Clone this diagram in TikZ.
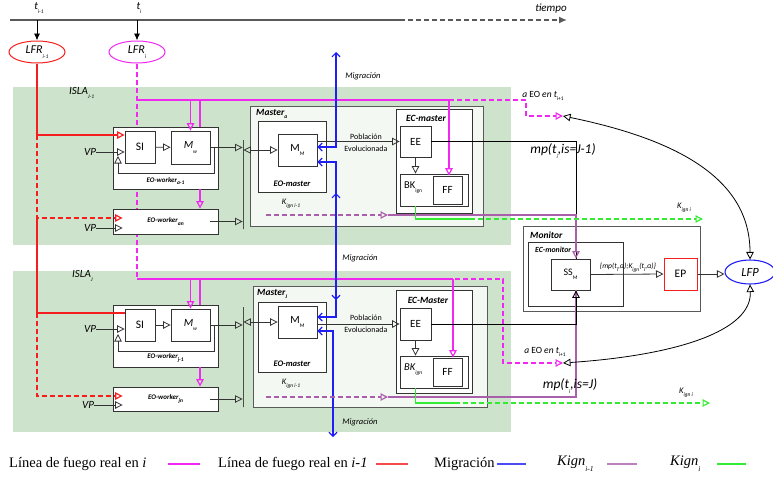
\documentclass[tikz,border=0pt]{standalone}
\usepackage{fontspec}
\setmainfont{Carlito}
\newfontfamily\leyenda{Liberation Serif}
\usepackage{xcolor}
\usepackage{tikz}
\usetikzlibrary{arrows.meta,positioning,shapes.geometric}

\definecolor{islaverde}{RGB}{206,227,204}
\definecolor{masterfondo}{RGB}{244,248,243}
\definecolor{rojo}{RGB}{245,30,30}
\definecolor{magenta2}{RGB}{240,40,240}
\definecolor{azul}{RGB}{30,30,245}
\definecolor{morado}{RGB}{170,95,170}
\definecolor{verde}{RGB}{50,235,50}

\newcommand{\subi}[1]{\raisebox{-0.8ex}{\fontsize{5.5}{6}\selectfont #1}}
\newcommand{\subl}[1]{\raisebox{-0.9ex}{\fontsize{7.5}{8}\selectfont #1}}

\begin{document}
\begin{tikzpicture}[
  x=1pt, y=-1pt,
  isla/.style={fill=islaverde, draw=none, inner sep=0pt},
  caja/.style={draw=black!80, fill=white, line width=0.8pt, inner sep=0pt, font=\fontsize{11}{12}\selectfont},
  cajam/.style={caja, fill=masterfondo, draw=black!65},
  barra/.style={draw=black, line width=0.9pt, minimum width=0pt, inner sep=0pt},
  lfr/.style={ellipse, line width=1pt, minimum width=56pt, minimum height=22pt, inner sep=0pt, font=\fontsize{12}{12}\selectfont\itshape},
  etq/.style={inner sep=0pt, font=\fontsize{11}{12}\selectfont\itshape},
  tit/.style={inner sep=0pt, font=\fontsize{9.5}{10}\selectfont\bfseries\itshape},
  wrk/.style={inner sep=0pt, font=\fontsize{7}{8}\selectfont\bfseries\itshape},
  peq/.style={inner sep=0pt, font=\fontsize{8.5}{9}\selectfont\itshape},
  pob/.style={inner sep=0pt, align=center, font=\fontsize{8}{12}\selectfont},
  punta/.style={-{Triangle[open,length=7.5pt,width=7.5pt]}},
  flecha/.style={draw=black!80, line width=0.8pt, punta},
  dobleflecha/.style={draw=black!80, line width=0.8pt, {Triangle[open,length=7.5pt,width=7.5pt]}-{Triangle[open,length=7.5pt,width=7.5pt]}},
  tiempoln/.style={draw=black!65, line width=1.5pt},
  rojoln/.style={draw=rojo, line width=1.2pt},
  magln/.style={draw=magenta2, line width=1.2pt},
  migln/.style={draw=azul, line width=1.2pt, {Straight Barb[length=4pt,width=8pt]}-{Straight Barb[length=4pt,width=8pt]}},
  morln/.style={draw=morado, line width=1.2pt},
  verln/.style={draw=verde, line width=1.2pt},
  rayas/.style={dash pattern=on 5pt off 3pt},
  ley/.style={inner sep=0pt, font=\leyenda\fontsize{14.5}{15}\selectfont},
  muestra/.style={line width=1.8pt}
]
\useasboundingbox (0,0) rectangle (773,480);

% islas
\node[isla, minimum width=498pt, minimum height=158pt] (islaA) at (262,166) {};
\node[isla, minimum width=498pt, minimum height=161pt] (islaB) at (262,351.5) {};
\node[etq, anchor=west] (islaAl) at (69,93) {ISLA\subi{J-1}};
\node[etq, anchor=west] (islaBl) at (72,276) {ISLA\subi{J}};

% eje de tiempo
\coordinate (t0) at (10,20);
\coordinate (tm) at (400,20);
\coordinate (tf) at (567,20);
\draw[tiempoln] (t0) -- (tm);
\draw[tiempoln, rayas, -{Latex[length=8pt,width=7pt]}] (tm) -- (tf);
\node[etq] (tiempol) at (551,9) {tiempo};
\node[etq] (ta) at (39,8) {t\subi{i-1}};
\node[etq] (tb) at (139,8) {t\subi{i}};
\coordinate (pa) at (37,20);
\coordinate (pb) at (137,20);
\node[lfr, draw=rojo] (lfra) at (37,52) {LFR\subi{i-1}};
\node[lfr, draw=magenta2] (lfrb) at (137,52) {LFR\subi{i}};
\draw[line width=0.9pt, -{Latex[length=7pt,width=6pt]}] (pa) -- (lfra);
\draw[line width=0.9pt, -{Latex[length=7pt,width=6pt]}] (pb) -- (lfrb);

% linea LFR_i (detras de las cajas)
\coordinate (mA0) at (137,100);
\coordinate (mB0) at (137,279);
\draw[magln, rayas] (lfrb.south) -- (mB0);

% isla J-1
\node[caja, minimum width=105pt, minimum height=62pt] (wkA) at (165.5,158) {};
\node[caja, minimum width=30pt, minimum height=32pt, font=\fontsize{11.5}{12}\selectfont] (siA) at (140,147) {SI};
\node[caja, minimum width=39pt, minimum height=33pt] (mwA) at (190.5,147.5) {\textit{M}\subi{\textit{w}}};
\node[wrk] (wkAl) at (165.5,181) {EO-worker\subi{a-1}};
\node[caja, minimum width=105pt, minimum height=25pt, font=\fontsize{7}{8}\selectfont\bfseries\itshape] (woAn) at (165.5,221.5) {EO-worker\subi{an}};
\node[barra, minimum height=89pt] (barA) at (243,184.5) {};
\node[etq] (vpA) at (90,152) {VP};
\node[etq] (vpAn) at (90,228) {VP};

\node[cajam, minimum width=233pt, minimum height=120pt] (msA) at (366.5,166) {};
\node[tit, anchor=west] (msAl) at (256,114) {Master\subi{a}};
\node[caja, minimum width=68pt, minimum height=71pt] (eomA) at (292,156.5) {};
\node[wrk, font=\fontsize{8.5}{9}\selectfont\bfseries\itshape] (eomAl) at (292,184) {EO-master};
\node[caja, minimum width=39pt, minimum height=32pt] (mmA) at (297.5,150) {M\subi{M}};
\node[caja, minimum width=76pt, minimum height=104pt] (ecA) at (434,161) {};
\node[tit] (ecAl) at (426,118) {EC-master};
\node[caja, minimum width=31pt, minimum height=31pt] (eeA) at (415.5,141.5) {EE};
\node[caja, minimum width=68pt, minimum height=32pt] (bkA) at (434,190) {};
\node[inner sep=0pt, anchor=west, font=\fontsize{10.5}{11}\selectfont] (bkAl) at (404,188) {BK\subi{ign}};
\node[caja, minimum width=29pt, minimum height=28pt] (ffA) at (447.5,190) {FF};

% isla J
\node[caja, minimum width=105pt, minimum height=62pt] (wkB) at (165.5,336) {};
\node[caja, minimum width=30pt, minimum height=32pt, font=\fontsize{11.5}{12}\selectfont] (siB) at (140,325) {SI};
\node[caja, minimum width=39pt, minimum height=32pt] (mwB) at (190.5,325) {\textit{M}\subi{\textit{w}}};
\node[wrk] (wkBl) at (165.5,358) {EO-worker\subi{j-1}};
\node[caja, minimum width=105pt, minimum height=24pt, font=\fontsize{7}{8}\selectfont\bfseries\itshape] (woBn) at (165.5,399) {EO-worker\subi{jn}};
\node[barra, minimum height=100pt] (barB) at (243,357) {};
\node[etq] (vpB) at (90,329) {VP};
\node[etq] (vpBn) at (88,405) {VP};

\node[cajam, minimum width=234pt, minimum height=121pt] (msB) at (370,346.5) {};
\node[tit, anchor=west] (msBl) at (257,294) {Master\subi{J}};
\node[caja, minimum width=68pt, minimum height=70pt] (eomB) at (292,337) {};
\node[wrk, font=\fontsize{8.5}{9}\selectfont\bfseries\itshape] (eomBl) at (292,364) {EO-master};
\node[caja, minimum width=39pt, minimum height=32pt] (mmB) at (297.5,322) {M\subi{M}};
\node[caja, minimum width=76pt, minimum height=103pt] (ecB) at (434,341.5) {};
\node[tit] (ecBl) at (428,300) {EC-Master};
\node[caja, minimum width=31pt, minimum height=32pt] (eeB) at (415.5,324) {EE};
\node[caja, minimum width=68pt, minimum height=32pt] (bkB) at (434,372) {};
\node[inner sep=0pt, anchor=west, font=\fontsize{10.5}{11}\selectfont\itshape] (bkBl) at (404,370) {BK\subi{ign}};
\node[caja, minimum width=29pt, minimum height=28pt] (ffB) at (447.5,372) {FF};

% monitor
\node[caja, draw=black!65, minimum width=177pt, minimum height=85pt] (mon) at (611.5,268.5) {};
\node[tit, anchor=west] (monl) at (530,235) {Monitor};
\node[caja, minimum width=95pt, minimum height=64pt] (ecmon) at (575.5,274) {};
\node[wrk, font=\fontsize{7.8}{8}\selectfont\bfseries\itshape, anchor=west] (ecmonl) at (535,250) {EC-monitor};
\node[caja, minimum width=39pt, minimum height=31pt, font=\fontsize{10}{11}\selectfont] (ssm) at (570.5,274.5) {SS\subi{M}};
\node[caja, draw=rojo, line width=1pt, minimum width=33pt, minimum height=32pt, font=\fontsize{11.5}{12}\selectfont] (ep) at (680.5,274) {EP};
\node[ellipse, draw=azul, line width=1.1pt, minimum width=50pt, minimum height=24pt, inner sep=0pt, font=\fontsize{12.5}{13}\selectfont\itshape] (lfp) at (750,272) {LFP};

% linea de fuego real en i-1
\coordinate (rA) at (37,135);
\coordinate (rAn) at (37,218);
\coordinate (rB) at (37,313);
\coordinate (rBn) at (37,396);
\draw[rojoln, punta] (lfra.south) |- (siA.west |- rA);
\draw[rojoln, rayas, punta] (rA) |- ([xshift=10pt]woAn.west |- rAn);
\draw[rojoln] (rAn) |- (siB.west |- rB);
\draw[rojoln, rayas, punta] (rB) |- ([xshift=10pt]woBn.west |- rBn);

% linea de fuego real en i
\coordinate (mA1) at (449,100);
\coordinate (mA3) at (200,100);
\coordinate (eoA) at (563,116);
\draw[magln] (mA0) -- (mA1);
\draw[magln, punta] (mwA.north |- mA0) -- (mwA.north);
\draw[magln] (mA3) -- (wkA.north -| mA3);
\draw[magln, punta] (wkA.south -| mA3) -- (woAn.north -| mA3);
\draw[magln, punta] (mA1) -- (mA1 |- ffA.north);
\draw[magln, rayas, punta] (mA1) -| (526,116) -- (eoA);
\node[peq, font=\fontsize{9.5}{10}\selectfont] (eoAl) at (543,96) {\textit{a} EO \textit{en t}\subi{i+1}};

\coordinate (mB1) at (453,279);
\coordinate (mB2) at (383,279);
\coordinate (mB3) at (200,279);
\coordinate (eoB) at (563,363);
\draw[magln] (mB0) -- (mB1);
\draw[magln, punta] (mwB.north |- mB0) -- (mwB.north);
\draw[magln] (mB3) -- (wkB.north -| mB3);
\draw[magln, punta] (wkB.south -| mB3) -- (woBn.north -| mB3);
\draw[magln, punta] (mB1) -- (mB1 |- ffB.north);
\draw[magln, rayas, punta] (mB2) -| (503,363) -- (eoB);
\node[peq, font=\fontsize{9.5}{10}\selectfont] (eoBl) at (545,352) {\textit{a} EO \textit{en t}\subi{i+1}};

% workers
\draw[flecha] (vpA.east) -- (siA.west |- vpA.east);
\draw[flecha] (siA) -- (mwA);
\draw[flecha] (mwA.east) -- (mwA.east -| barA.west);
\coordinate (lzA) at (214,147.5);
\draw[flecha] (lzA) |- (118,173) -- (118,156);
\draw[flecha] (vpAn.east) -- ([xshift=10pt]woAn.west |- vpAn.east);
\draw[flecha] ([xshift=-8pt]woAn.east) -- (woAn.east -| barA.west);
\draw[dobleflecha] (mmA.west -| barA.east) -- (mmA.west);

\draw[flecha] (vpB.east) -- (siB.west |- vpB.east);
\draw[flecha] (siB) -- (mwB);
\draw[flecha] (mwB.east) -- (mwB.east -| barB.west);
\coordinate (lzB) at (214,325);
\draw[flecha] (lzB) |- (118,351) -- (118,334);
\draw[flecha] (vpBn.east) -- ([xshift=10pt]woBn.west |- vpBn.east);
\draw[flecha] ([xshift=-8pt]woBn.east) -- (woBn.east -| barB.west);
\draw[dobleflecha] (mmB.west -| barB.east) -- (mmB.west);

% masters
\draw[flecha] (mmA.east |- eeA.west) -- (eeA.west);
\node[pob] (pobA) at (366,143) {Población\\Evolucionada};
\draw[flecha] (eeA.south) -- (eeA.south |- bkA.north);
\draw[flecha] (mmB.east |- eeB.west) -- (eeB.west);
\node[pob] (pobB) at (366,324) {Población\\Evolucionada};
\draw[flecha] (eeB.south) -- (eeB.south |- bkB.north);

% migracion
\coordinate (migT) at (336,52);
\coordinate (migM) at (336,240);
\coordinate (migB) at (333,437);
\draw[migln] (migT) |- (mmA.east |- 0,147);
\draw[migln] (mmA.east |- 0,162) -| (migM) |- (mmB.east |- 0,317);
\draw[migln] (336,193) -- (336,300);
\draw[migln] (mmB.east |- 0,331) -| (migB);
\node[peq, font=\fontsize{8.5}{9}\selectfont\itshape] (migl1) at (363,76) {Migración};
\node[peq, font=\fontsize{8.5}{9}\selectfont\itshape] (migl2) at (360,258) {Migración};
\node[peq, font=\fontsize{8.5}{9}\selectfont\itshape] (migl3) at (360,422) {Migración};

% hacia el monitor
\coordinate (kA0) at (266,215);
\coordinate (kA1) at (388,215);
\coordinate (kB0) at (266,397);
\coordinate (kB1) at (388,397);
\draw[draw=black, line width=0.9pt] (eeA.east) -| (ssm.north -| 576,0);
\draw[morln, rayas, punta] (kA0) -- (kA1);
\draw[morln, punta] (kA1) -| (ssm.north -| 576,0);
\node[peq] (kAl) at (291,204) {K\subi{ign i-1}};
\draw[morln, rayas, punta] (kB0) -- (kB1);
\draw[morln] (kB1) -| (ssm.south -| 576,0);
\draw[draw=black, line width=0.9pt, punta] (eeB.east) -| (ssm.south -| 576,0);
\node[peq] (kBl) at (291,384) {K\subi{ign i-1}};

% K_ign i
\coordinate (gA1) at (470,219);
\coordinate (gA2) at (703,219);
\coordinate (gB1) at (455,403);
\coordinate (gB2) at (710,403);
\draw[verln] (eeA.south |- bkA.south) |- (gA1);
\draw[verln, rayas, punta] (gA1) -- (gA2);
\node[peq] (gAl) at (684,208) {K\subi{ign i}};
\draw[verln] (eeB.south |- bkB.south) |- (gB1);
\draw[verln, rayas, punta] (gB1) -- (gB2);
\node[peq] (gBl) at (686,393) {K\subi{ign i}};

\node[etq, font=\fontsize{13.5}{14}\selectfont\itshape] (mpA) at (563,151) {mp(t\subi{i},is=J-1)};
\node[etq, font=\fontsize{13.5}{14}\selectfont\itshape] (mpB) at (570,386) {mp(t\subi{i},is=J)};

% monitor -> LFP
\draw[flecha] (ssm.east) -- (ep.west);
\node[peq, font=\fontsize{7.5}{8}\selectfont\itshape] (ssl) at (628,268) {\{mp(t\subi{i},α);K\subi{ign}(t\subi{i},α)\}};
\draw[flecha] (ep.east) -- (ep.east -| lfp.west);
\draw[dobleflecha, draw=black] (eoA) .. controls (680,140) and (750,180) .. (lfp.north);
\draw[dobleflecha, draw=black] (eoB) .. controls (680,355) and (752,330) .. (lfp.south);

% leyenda
\node[ley, anchor=west] (ley1) at (9,464) {Línea de fuego real en \textit{i}};
\node[ley, anchor=west] (ley2) at (218,464) {Línea de fuego real en \textit{i-1}};
\node[ley, anchor=west] (ley3) at (434,464) {Migración};
\node[ley, anchor=west] (ley4) at (557,464) {\textit{Kign}\subl{\textit{i-1}}};
\node[ley, anchor=west] (ley5) at (670,464) {\textit{Kign}\subl{\textit{i}}};
\coordinate (s1) at (168,464); \coordinate (s2) at (376,464);
\coordinate (s3) at (497,464); \coordinate (s4) at (607,464);
\coordinate (s5) at (717,464);
\draw[muestra, draw=magenta2] (s1) -- ++(32,0);
\draw[muestra, draw=rojo!80] (s2) -- ++(32,0);
\draw[muestra, draw=azul!80] (s3) -- ++(29,0);
\draw[muestra, draw=morado!80] (s4) -- ++(30,0);
\draw[muestra, draw=verde] (s5) -- ++(29,0);
\end{tikzpicture}
\end{document}
